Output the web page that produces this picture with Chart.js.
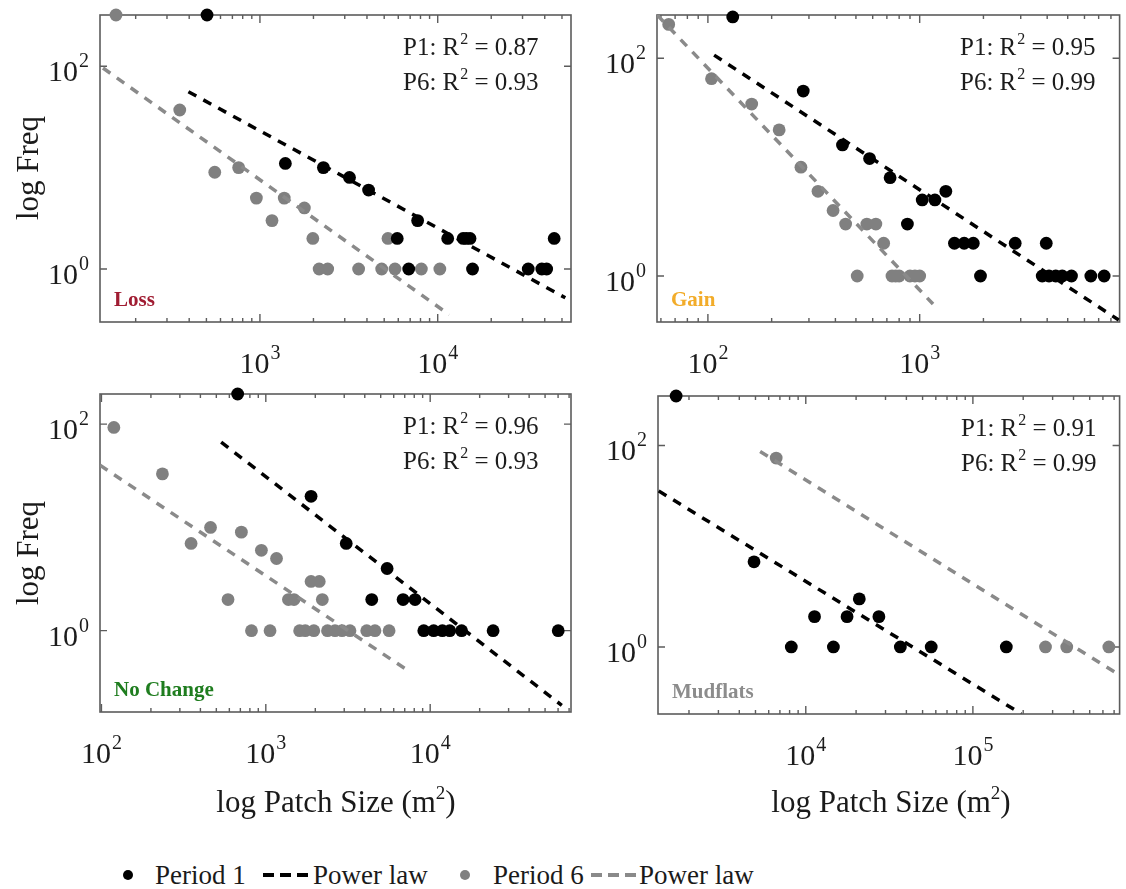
<!DOCTYPE html>
<html>
<head>
<meta charset="utf-8">
<script src="https://cdn.jsdelivr.net/npm/chart.js@4.4.1/dist/chart.umd.min.js"></script>
<style>
  html, body { margin: 0; padding: 0; background: #fff; }
  body { width: 1126px; height: 889px; position: relative; overflow: hidden; font-family: "Liberation Serif", "DejaVu Serif", serif; color: #1a1a1a; }
  .panel { position: absolute; }
  .ytitle { position: absolute; width: 200px; height: 36px; line-height: 36px; text-align: center; font-size: 31px; transform: rotate(-90deg); white-space: nowrap; }
  .xtitle { position: absolute; width: 400px; text-align: center; font-size: 31px; line-height: 30px; white-space: nowrap; }
  .xtitle sup { font-size: 19px; vertical-align: 13px; line-height: 0; }
  .leg { position: absolute; font-size: 27px; line-height: 30px; white-space: nowrap; }
  .dot { position: absolute; width: 10px; height: 10px; border-radius: 50%; }
  .dash { position: absolute; }
</style>
</head>
<body>

<div class="panel" style="left:0;top:0;"><canvas id="cLoss" width="600" height="380"></canvas></div>
<div class="panel" style="left:580px;top:0;"><canvas id="cGain" width="546" height="380"></canvas></div>
<div class="panel" style="left:0;top:380px;"><canvas id="cNoChange" width="600" height="420"></canvas></div>
<div class="panel" style="left:580px;top:380px;"><canvas id="cMudflats" width="546" height="420"></canvas></div>

<div class="ytitle" style="left:-72px;top:150px;">log Freq</div>
<div class="ytitle" style="left:-72px;top:535px;">log Freq</div>
<div class="xtitle" style="left:136px;top:787px;">log Patch Size (m<sup>2</sup>)</div>
<div class="xtitle" style="left:691px;top:787px;">log Patch Size (m<sup>2</sup>)</div>

<!-- legend -->
<div class="dot" style="left:123px;top:870px;background:#000;"></div>
<div class="leg" style="left:155px;top:860px;">Period 1</div>
<svg class="dash" style="left:262px;top:871px;" width="50" height="8"><line x1="1" y1="4" x2="49" y2="4" stroke="#000" stroke-width="4" stroke-dasharray="11 6"/></svg>
<div class="leg" style="left:313px;top:860px;">Power law</div>
<div class="dot" style="left:460px;top:870px;background:#808080;"></div>
<div class="leg" style="left:493px;top:860px;">Period 6</div>
<svg class="dash" style="left:590px;top:871px;" width="50" height="8"><line x1="1" y1="4" x2="49" y2="4" stroke="#8a8a8a" stroke-width="4" stroke-dasharray="11 6"/></svg>
<div class="leg" style="left:639px;top:860px;">Power law</div>

<script>
// ---------------- Loss ----------------
const lossP1Size = [504, 1390, 2275, 3190, 4085, 7710, 5920, 11380, 13900, 14500, 15200, 6870, 15700, 32300, 38500, 41000, 45200];
const lossP1Freq = [320, 11, 10, 8, 6, 3, 2, 2, 2, 2, 2, 1, 1, 1, 1, 1, 2];
const lossP6Size = [155, 354, 557, 759, 955, 1169, 1370, 1778, 1984, 2153, 2405, 3590, 4840, 5250, 5750, 8090, 10280];
const lossP6Freq = [320, 37, 9, 10, 5, 3, 5, 4, 2, 1, 1, 1, 1, 2, 1, 1, 1];
const lossFitP1Size = [396, 52200];
const lossFitP1Freq = [56, 0.52];
const lossFitP6Size = [131, 11600];
const lossFitP6Freq = [96, 0.354];

// ---------------- Gain ----------------
const gainP1Size = [131, 282, 432, 580, 725, 1028, 1180, 1329, 875, 1459, 1622, 1791, 2825, 3960, 1937, 3790, 4080, 4390, 4710, 5210, 6430, 7430];
const gainP1Freq = [240, 50, 16, 12, 8, 5, 5, 6, 3, 2, 2, 2, 2, 2, 1, 1, 1, 1, 1, 1, 1, 1];
const gainP6Size = [65.3, 104, 161, 217, 275, 331, 390, 447, 563, 621, 676, 507, 740, 770, 800, 900, 950, 1000];
const gainP6Freq = [205, 65, 38, 22, 10, 6, 4, 3, 3, 3, 2, 1, 1, 1, 1, 1, 1, 1];
const gainFitP1Size = [107, 8710];
const gainFitP1Freq = [107, 0.394];
const gainFitP6Size = [57.6, 1156];
const gainFitP6Freq = [250, 0.553];

// ---------------- No Change ----------------
const noChangeP1Size = [674, 1885, 3085, 5470, 4410, 6840, 8090, 9140, 10500, 11860, 13150, 15530, 24150, 60100];
const noChangeP1Freq = [196, 20, 7, 4, 2, 2, 2, 1, 1, 1, 1, 1, 1, 1];
const noChangeP6Size = [119, 235, 351, 461, 589, 710, 940, 1162, 1373, 1484, 1885, 2114, 2207, 818, 1061, 1606, 1738, 1959, 2373, 2636, 2909, 3251, 4111, 4614, 5623];
const noChangeP6Freq = [93, 33, 7, 10, 2, 9, 6, 5, 2, 2, 3, 3, 2, 1, 1, 1, 1, 1, 1, 1, 1, 1, 1, 1, 1];
const noChangeFitP1Size = [535, 63200];
const noChangeFitP1Freq = [67, 0.189];
const noChangeFitP6Size = [98, 7015];
const noChangeFitP6Freq = [40, 0.43];

// ---------------- Mudflats ----------------
const mudP1Size = [1675, 4900, 8190, 11280, 14630, 17660, 20900, 27380, 36800, 56300, 158500];
const mudP1Freq = [310, 7, 1, 2, 1, 2, 3, 2, 1, 1, 1];
const mudP6Size = [6650, 272000, 364500, 651000];
const mudP6Freq = [75, 1, 1, 1];
const mudFitP1Size = [1318, 194500];
const mudFitP1Freq = [35.4, 0.217];
const mudFitP6Size = [5330, 774000];
const mudFitP6Freq = [87, 0.512];

// goodness-of-fit labels, one per panel
const panelNames = ['Loss', 'Gain', 'No Change', 'Mudflats'];
const r2Period1 = [0.87, 0.95, 0.96, 0.91];
const r2Period6 = [0.93, 0.99, 0.93, 0.99];

// tick label exponents (labels read as 10^n)
const yLabelExponents = [0, 2];
const lossXExponents = [3, 4];
const gainXExponents = [2, 3];
const noChangeXExponents = [2, 3, 4];
const mudXExponents = [4, 5];

const SERIF = '"Liberation Serif", "DejaVu Serif", serif';
const TEXT = '#1c1c1c';

function pairs(xs, ys) { return xs.map((x, i) => ({ x: x, y: ys[i] })); }

function logTicks(min, max) {
  const out = [];
  for (let k = Math.floor(Math.log10(min)); k <= Math.ceil(Math.log10(max)); k++) {
    for (let m = 1; m <= 9; m++) {
      const v = m * Math.pow(10, k);
      if (v >= min * 0.999 && v <= max * 1.001) out.push({ v: v, major: m === 1 });
    }
  }
  return out;
}

function drawPow(ctx, exp, x, y, align) {
  ctx.font = '30px ' + SERIF;
  const w1 = ctx.measureText('10').width;
  ctx.font = '20px ' + SERIF;
  const w2 = ctx.measureText(String(exp)).width;
  const total = w1 + 1 + w2;
  const x0 = align === 'center' ? x - total / 2 : x - total;
  ctx.textAlign = 'left';
  ctx.textBaseline = 'alphabetic';
  ctx.font = '30px ' + SERIF;
  ctx.fillText('10', x0, y);
  ctx.font = '20px ' + SERIF;
  ctx.fillText(String(exp), x0 + w1 + 1, y - 14);
}

function drawR2(ctx, x, y, tag, val) {
  ctx.textAlign = 'left';
  ctx.textBaseline = 'alphabetic';
  ctx.font = '25px ' + SERIF;
  const s1 = tag + ': R';
  ctx.fillText(s1, x, y);
  const w = ctx.measureText(s1).width;
  ctx.font = '16px ' + SERIF;
  ctx.fillText('2', x + w + 1, y - 11);
  const w2 = ctx.measureText('2').width;
  ctx.font = '25px ' + SERIF;
  ctx.fillText(' = ' + val.toFixed(2), x + w + 1 + w2, y);
}

// Frame, inward ticks on all four sides, power-of-ten labels and panel annotations
const frameAxes = {
  id: 'frameAxes',
  beforeDatasetsDraw(chart, args, opts) {
    const ctx = chart.ctx;
    const a = chart.chartArea;
    const xs = chart.scales.x, ys = chart.scales.y;
    ctx.save();
    ctx.strokeStyle = '#5c5c5c';
    ctx.lineWidth = 1.6;
    ctx.strokeRect(a.left, a.top, a.right - a.left, a.bottom - a.top);

    ctx.lineWidth = 1.4;
    ctx.beginPath();
    logTicks(xs.min, xs.max).forEach(t => {
      const px = xs.getPixelForValue(t.v);
      if (px < a.left + 1 || px > a.right - 1) return;
      const len = t.major ? 8 : 4;
      ctx.moveTo(px, a.bottom); ctx.lineTo(px, a.bottom - len);
      ctx.moveTo(px, a.top); ctx.lineTo(px, a.top + len);
    });
    opts.yExp.forEach(e => {
      const py = ys.getPixelForValue(Math.pow(10, e));
      ctx.moveTo(a.left, py); ctx.lineTo(a.left + 7, py);
      ctx.moveTo(a.right, py); ctx.lineTo(a.right - 7, py);
    });
    ctx.stroke();

    ctx.fillStyle = TEXT;
    opts.xExp.forEach(e => drawPow(ctx, e, xs.getPixelForValue(Math.pow(10, e)), a.bottom + 51, 'center'));
    opts.yExp.forEach(e => drawPow(ctx, e, a.left - 11, ys.getPixelForValue(Math.pow(10, e)) + 15, 'right'));

    drawR2(ctx, a.left + 303, a.top + 40, 'P1', opts.r2[0]);
    drawR2(ctx, a.left + 303, a.top + 75, 'P6', opts.r2[1]);

    ctx.font = 'bold 21px ' + SERIF;
    ctx.fillStyle = opts.nameColor;
    ctx.textAlign = 'left';
    ctx.fillText(opts.name, a.left + 14, a.bottom - 16);
    ctx.restore();
  }
};

function makePanel(id, p) {
  return new Chart(document.getElementById(id), {
    type: 'scatter',
    data: {
      datasets: [
        { label: 'Power law P1', data: pairs(p.f1x, p.f1y), showLine: true, borderColor: '#000', borderWidth: 3.5,
          borderDash: [9, 8], borderCapStyle: 'butt', pointRadius: 0, fill: false, order: 0 },
        { label: 'Power law P6', data: pairs(p.f6x, p.f6y), showLine: true, borderColor: '#8a8a8a', borderWidth: 3.5,
          borderDash: [9, 8], borderCapStyle: 'butt', pointRadius: 0, fill: false, order: 0 },
        { label: 'Period 1', data: pairs(p.p1x, p.p1y), backgroundColor: '#000', borderColor: '#000', borderWidth: 0,
          pointRadius: 6.4, clip: false, order: 1 },
        { label: 'Period 6', data: pairs(p.p6x, p.p6y), backgroundColor: '#808080', borderColor: '#808080', borderWidth: 0,
          pointRadius: 6.4, clip: false, order: 2 }
      ]
    },
    options: {
      responsive: false,
      animation: false,
      events: [],
      layout: { padding: p.pad },
      plugins: {
        legend: { display: false },
        tooltip: { enabled: false },
        frameAxes: { xExp: p.xExp, yExp: yLabelExponents, r2: p.r2, name: p.name, nameColor: p.nameColor }
      },
      scales: {
        x: { type: 'logarithmic', min: p.xMin, max: p.xMax, display: false },
        y: { type: 'logarithmic', min: p.yMin, max: p.yMax, display: false }
      }
    },
    plugins: [frameAxes]
  });
}

makePanel('cLoss', {
  p1x: lossP1Size, p1y: lossP1Freq, p6x: lossP6Size, p6y: lossP6Freq,
  f1x: lossFitP1Size, f1y: lossFitP1Freq, f6x: lossFitP6Size, f6y: lossFitP6Freq,
  xMin: 126, xMax: 56200, yMin: 0.314, yMax: 320,
  xExp: lossXExponents, r2: [r2Period1[0], r2Period6[0]], name: panelNames[0], nameColor: '#a01c32',
  pad: { left: 100, top: 15, right: 29, bottom: 58 }
});
makePanel('cGain', {
  p1x: gainP1Size, p1y: gainP1Freq, p6x: gainP6Size, p6y: gainP6Freq,
  f1x: gainFitP1Size, f1y: gainFitP1Freq, f6x: gainFitP6Size, f6y: gainFitP6Freq,
  xMin: 57.5, xMax: 8790, yMin: 0.378, yMax: 250,
  xExp: gainXExponents, r2: [r2Period1[1], r2Period6[1]], name: panelNames[1], nameColor: '#f2ac2a',
  pad: { left: 77, top: 15, right: 2, bottom: 58 }
});
makePanel('cNoChange', {
  p1x: noChangeP1Size, p1y: noChangeP1Freq, p6x: noChangeP6Size, p6y: noChangeP6Freq,
  f1x: noChangeFitP1Size, f1y: noChangeFitP1Freq, f6x: noChangeFitP6Size, f6y: noChangeFitP6Freq,
  xMin: 98, xMax: 71900, yMin: 0.163, yMax: 196,
  xExp: noChangeXExponents, r2: [r2Period1[2], r2Period6[2]], name: panelNames[2], nameColor: '#1f7d1f',
  pad: { left: 100, top: 14, right: 29, bottom: 88 }
});
makePanel('cMudflats', {
  p1x: mudP1Size, p1y: mudP1Freq, p6x: mudP6Size, p6y: mudP6Freq,
  f1x: mudFitP1Size, f1y: mudFitP1Freq, f6x: mudFitP6Size, f6y: mudFitP6Freq,
  xMin: 1305, xMax: 755000, yMin: 0.216, yMax: 310,
  xExp: mudXExponents, r2: [r2Period1[3], r2Period6[3]], name: panelNames[3], nameColor: '#8c8c8c',
  pad: { left: 78, top: 16, right: 2, bottom: 86 }
});
</script>
</body>
</html>
